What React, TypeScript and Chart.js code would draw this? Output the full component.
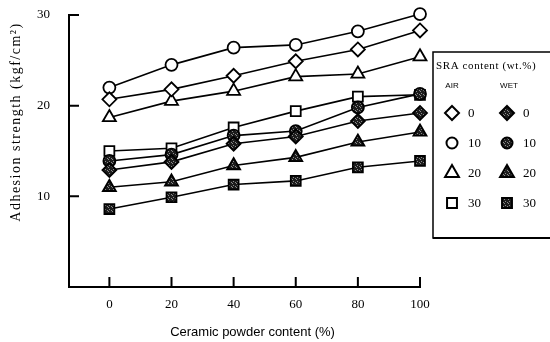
import React, { useEffect, useRef } from "react";
import { Chart, registerables } from "chart.js";

Chart.register(...registerables);

// ---- data ----
const ceramicContent = [0, 20, 40, 60, 80, 100];
const xTickValues = [0, 20, 40, 60, 80, 100];
const yTickValues = [10, 20, 30];
const sraLevels = ["0", "10", "20", "30"];

const airSra0 = [20.7, 21.8, 23.3, 24.9, 26.2, 28.3];
const airSra10 = [22.0, 24.5, 26.4, 26.7, 28.2, 30.1];
const airSra20 = [18.7, 20.5, 21.6, 23.2, 23.5, 25.4];
const airSra30 = [15.0, 15.3, 17.6, 19.4, 21.0, 21.2];

const wetSra0 = [12.9, 13.8, 15.8, 16.6, 18.3, 19.2];
const wetSra10 = [13.9, 14.6, 16.7, 17.2, 19.8, 21.3];
const wetSra20 = [11.0, 11.6, 13.4, 14.3, 16.0, 17.1];
const wetSra30 = [8.6, 9.9, 11.3, 11.7, 13.2, 13.9];

const xTitle = "Ceramic powder content (%)";
const yTitle = "Adhesion strength (kgf/cm²)";
const legendTitle = "SRA content (wt.%)";
const legendAir = "AIR";
const legendWet = "WET";

const SERIF = "'Liberation Serif', 'Times New Roman', serif";
const SANS = "'Liberation Sans', Arial, sans-serif";

const shapes = ["rectRot", "circle", "triangle", "rect"];
const radii = [7, 6, 7.5, 7];

function makePattern(): CanvasPattern | string {
  const c = document.createElement("canvas");
  c.width = 4;
  c.height = 4;
  const g = c.getContext("2d");
  if (!g) return "#222";
  g.fillStyle = "#1c1c1c";
  g.fillRect(0, 0, 4, 4);
  g.fillStyle = "#8a8a8a";
  g.fillRect(1, 1, 1, 1);
  g.fillRect(3, 2, 1, 1);
  g.fillRect(0, 3, 1, 1);
  const p = g.createPattern(c, "repeat");
  return p || "#222";
}

function drawShape(
  ctx: CanvasRenderingContext2D,
  style: string,
  x: number,
  y: number,
  r: number,
  fill: any,
  lw: number
) {
  ctx.beginPath();
  if (style === "circle") {
    ctx.arc(x, y, r, 0, Math.PI * 2);
  } else if (style === "rectRot") {
    ctx.moveTo(x, y - r);
    ctx.lineTo(x + r, y);
    ctx.lineTo(x, y + r);
    ctx.lineTo(x - r, y);
    ctx.closePath();
  } else if (style === "triangle") {
    for (let i = 0; i < 3; i++) {
      const a = (i * 2 * Math.PI) / 3;
      const px = x + Math.sin(a) * r;
      const py = y - Math.cos(a) * r;
      if (i === 0) ctx.moveTo(px, py);
      else ctx.lineTo(px, py);
    }
    ctx.closePath();
  } else {
    const s = r * Math.SQRT1_2;
    ctx.rect(x - s, y - s, 2 * s, 2 * s);
  }
  ctx.fillStyle = fill;
  ctx.fill();
  ctx.lineWidth = lw;
  ctx.strokeStyle = "#000";
  ctx.stroke();
}

export default function App() {
  const ref = useRef<HTMLCanvasElement | null>(null);

  useEffect(() => {
    const canvas = ref.current;
    if (!canvas) return;
    const pattern = makePattern();

    const airSeries = [airSra0, airSra10, airSra20, airSra30];
    const wetSeries = [wetSra0, wetSra10, wetSra20, wetSra30];

    const mk = (vals: number[], i: number, wet: boolean) => ({
      label: (wet ? "WET " : "AIR ") + sraLevels[i],
      data: ceramicContent.map((x, k) => ({ x, y: vals[k] })),
      borderColor: "#000",
      borderWidth: 1.6,
      pointStyle: shapes[i],
      pointRadius: radii[i],
      pointBorderWidth: 1.8,
      pointBorderColor: "#000",
      pointBackgroundColor: wet ? pattern : "#fff",
      backgroundColor: wet ? pattern : "#fff",
      tension: 0,
      clip: false as any,
    });

    const datasets = [
      ...wetSeries.map((v, i) => mk(v, i, true)),
      ...airSeries.map((v, i) => mk(v, i, false)),
    ];

    const decor = {
      id: "decor",
      afterDraw(chart: any) {
        const { ctx, chartArea, scales } = chart;
        const { left, right, bottom } = chartArea;
        const xs = scales.x;
        const ys = scales.y;
        ctx.save();
        ctx.strokeStyle = "#000";
        ctx.lineWidth = 2;
        ctx.beginPath();
        xTickValues.forEach((v) => {
          const px = xs.getPixelForValue(v);
          ctx.moveTo(px, bottom);
          ctx.lineTo(px, bottom - 10);
        });
        yTickValues.forEach((v) => {
          const py = ys.getPixelForValue(v);
          ctx.moveTo(left, py);
          ctx.lineTo(left + 10, py);
        });
        ctx.stroke();

        // axis titles
        ctx.fillStyle = "#000";
        ctx.textAlign = "center";
        ctx.textBaseline = "middle";
        ctx.font = `13px ${SANS}`;
        ctx.fillText(xTitle, (left + right) / 2 + 8, bottom + 45);

        ctx.save();
        ctx.translate(16, 122);
        ctx.rotate(-Math.PI / 2);
        ctx.font = `14px ${SERIF}`;
        (ctx as any).letterSpacing = "1.5px";
        ctx.fillText(yTitle, 0, 0);
        ctx.restore();

        // legend box
        const bx = right + 13;
        const by = 52;
        ctx.lineWidth = 1.5;
        ctx.strokeRect(bx, by, 140, 186);
        ctx.lineWidth = 2;
        ctx.beginPath();
        ctx.moveTo(bx, by + 186);
        ctx.lineTo(bx + 140, by + 186);
        ctx.stroke();

        ctx.textAlign = "left";
        ctx.font = `11px ${SERIF}`;
        (ctx as any).letterSpacing = "0.6px";
        ctx.fillText(legendTitle, bx + 3, by + 14);
        (ctx as any).letterSpacing = "0px";
        ctx.textAlign = "center";
        ctx.font = `8px ${SANS}`;
        ctx.fillText(legendAir, bx + 19, by + 34);
        ctx.fillText(legendWet, bx + 76, by + 34);

        const legendR = [7, 5.5, 8, 7];
        sraLevels.forEach((lab, i) => {
          const ry = 113 + 30 * i;
          drawShape(ctx, shapes[i], bx + 19, ry, legendR[i], "#fff", 2);
          drawShape(ctx, shapes[i], bx + 74, ry, legendR[i], pattern, 2);
          ctx.fillStyle = "#000";
          ctx.textAlign = "left";
          ctx.font = `13px ${SERIF}`;
          ctx.fillText(lab, bx + 35, ry + 1);
          ctx.fillText(lab, bx + 90, ry + 1);
        });
        ctx.restore();
      },
    };

    const chart = new Chart(canvas, {
      type: "line",
      data: { datasets: datasets as any },
      options: {
        animation: false,
        responsive: false,
        devicePixelRatio: 1,
        layout: { autoPadding: false, padding: { top: 15, right: 130, left: 0, bottom: 0 } },
        plugins: {
          legend: { display: false },
          tooltip: { enabled: false },
        },
        scales: {
          x: {
            type: "linear",
            min: -13,
            max: 100,
            afterBuildTicks: (s: any) => {
              s.ticks = xTickValues.map((v) => ({ value: v }));
            },
            afterFit: (s: any) => {
              s.height = 55;
              s.paddingLeft = 0;
              s.paddingRight = 0;
            },
            grid: { display: false, drawTicks: false },
            border: { display: true, color: "#000", width: 2 },
            ticks: {
              color: "#000",
              padding: 10,
              maxRotation: 0,
              autoSkip: false,
              font: { family: SERIF, size: 13 },
            },
          },
          y: {
            type: "linear",
            min: 0,
            max: 30,
            afterBuildTicks: (s: any) => {
              s.ticks = yTickValues.map((v) => ({ value: v }));
            },
            afterFit: (s: any) => {
              s.width = 69;
              s.paddingTop = 0;
              s.paddingBottom = 0;
            },
            grid: { display: false, drawTicks: false },
            border: { display: true, color: "#000", width: 2 },
            ticks: {
              color: "#000",
              padding: 19,
              font: { family: SERIF, size: 13 },
            },
          },
        },
      },
      plugins: [decor],
    });

    return () => chart.destroy();
  }, []);

  return (
    <div style={{ position: "fixed", left: 0, top: 0, width: 550, height: 342, background: "#fff" }}>
      <canvas ref={ref} width={550} height={342} />
    </div>
  );
}
